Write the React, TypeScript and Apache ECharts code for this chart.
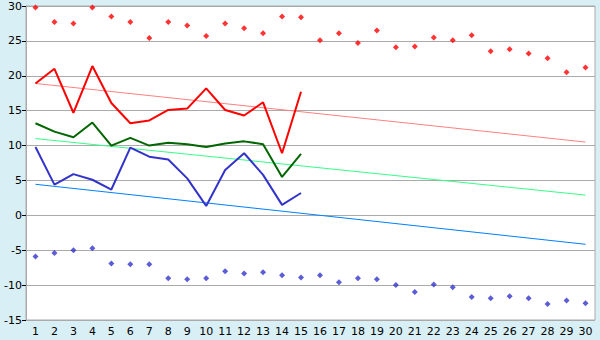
import React, { useEffect, useRef } from "react";
import * as echarts from "echarts";

const days = Array.from({ length: 30 }, (_, i) => String(i + 1));

const recordHigh = [29.8, 27.7, 27.5, 29.8, 28.5, 27.7, 25.4, 27.7, 27.2, 25.7, 27.5, 26.8, 26.1, 28.5, 28.4, 25.1, 26.1, 24.7, 26.5, 24.1, 24.2, 25.5, 25.1, 25.8, 23.5, 23.8, 23.2, 22.5, 20.5, 21.2];
const recordLow = [-5.9, -5.4, -5.0, -4.7, -6.9, -7.0, -7.0, -9.0, -9.15, -9.0, -8.0, -8.35, -8.15, -8.6, -8.9, -8.6, -9.6, -9.0, -9.15, -10.0, -11.0, -9.9, -10.3, -11.7, -11.9, -11.6, -11.9, -12.7, -12.2, -12.6];
const dailyMax = [18.9, 21.0, 14.7, 21.4, 16.1, 13.2, 13.6, 15.1, 15.3, 18.2, 15.1, 14.3, 16.2, 8.9, 17.7];
const dailyAvg = [13.2, 12.0, 11.2, 13.3, 10.0, 11.1, 10.0, 10.4, 10.2, 9.8, 10.3, 10.6, 10.2, 5.5, 8.8];
const dailyMin = [9.8, 4.4, 5.9, 5.1, 3.7, 9.7, 8.4, 8.0, 5.3, 1.35, 6.5, 8.9, 5.8, 1.5, 3.2];
const normalMax = [18.9, 10.5];
const normalAvg = [11.0, 2.9];
const normalMin = [4.45, -4.15];

const trend = (ends: number[]) => [
  [days[0], ends[0]],
  [days[days.length - 1], ends[1]],
];

export default function App() {
  const ref = useRef<HTMLDivElement>(null);
  useEffect(() => {
    if (!ref.current) return;
    const chart = echarts.init(ref.current, null, { renderer: "svg" });
    const font = { fontFamily: "DejaVu Sans", fontSize: 11, color: "#000" };
    chart.setOption({
      animation: false,
      backgroundColor: "#d9eff6",
      grid: {
        left: 26,
        right: 5,
        top: 6,
        bottom: 20,
        show: true,
        backgroundColor: "#ffffff",
        borderColor: "#aaaaaa",
        borderWidth: 1,
      },
      xAxis: {
        type: "category",
        data: days,
        boundaryGap: true,
        axisLine: { lineStyle: { color: "#aaaaaa" } },
        axisTick: { alignWithLabel: true, length: 4, lineStyle: { color: "#000" } },
        axisLabel: { ...font, margin: 6, interval: 0 },
        splitLine: { show: false },
      },
      yAxis: {
        type: "value",
        min: -15,
        max: 30,
        interval: 5,
        axisLine: { show: true, lineStyle: { color: "#aaaaaa" } },
        axisTick: { show: true, length: 4, lineStyle: { color: "#000" } },
        axisLabel: { ...font, margin: 4 },
        splitLine: { lineStyle: { color: "#aaaaaa", width: 1 } },
      },
      series: [
        {
          type: "line",
          data: trend(normalMax),
          symbol: "none",
          lineStyle: { color: "#ff8080", width: 1 },
        },
        {
          type: "line",
          data: trend(normalAvg),
          symbol: "none",
          lineStyle: { color: "#33ff88", width: 1 },
        },
        {
          type: "line",
          data: trend(normalMin),
          symbol: "none",
          lineStyle: { color: "#0080ff", width: 1 },
        },
        {
          type: "line",
          data: dailyMax,
          symbol: "none",
          lineStyle: { color: "#ff0000", width: 2 },
        },
        {
          type: "line",
          data: dailyAvg,
          symbol: "none",
          lineStyle: { color: "#006600", width: 2 },
        },
        {
          type: "line",
          data: dailyMin,
          symbol: "none",
          lineStyle: { color: "#3333cc", width: 2 },
        },
        {
          type: "scatter",
          data: recordHigh,
          symbol: "diamond",
          symbolSize: 6,
          itemStyle: { color: "#ff0000" },
        },
        {
          type: "scatter",
          data: recordLow,
          symbol: "diamond",
          symbolSize: 6,
          itemStyle: { color: "#3333cc" },
        },
      ],
    });
    return () => chart.dispose();
  }, []);
  return (
    <div
      ref={ref}
      style={{ position: "fixed", left: 0, top: 0, width: 600, height: 340 }}
    />
  );
}
